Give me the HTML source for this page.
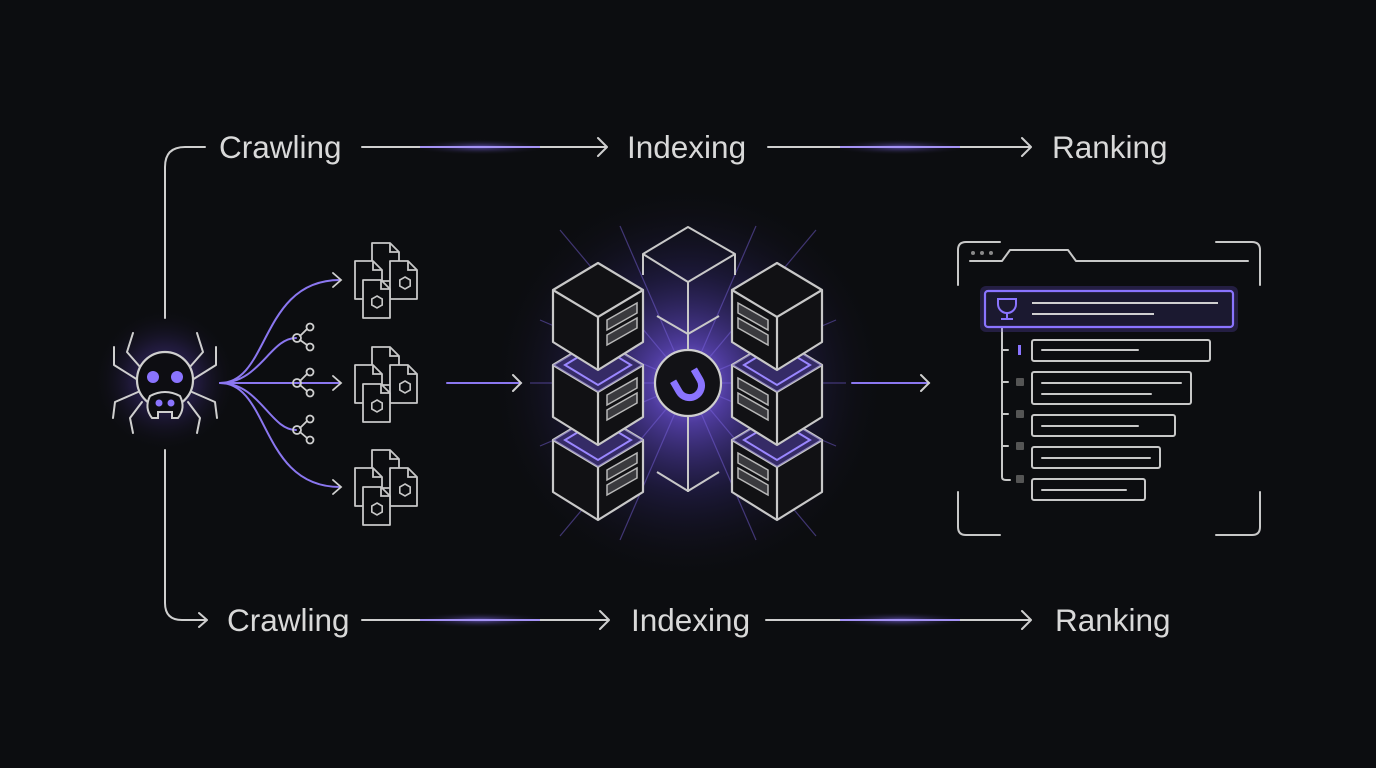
<!DOCTYPE html>
<html><head><meta charset="utf-8"><style>
html,body{margin:0;padding:0;background:#0c0d10;}
svg{display:block;}
text{font-family:"Liberation Sans",sans-serif;font-size:31.5px;fill:#d9d9d9;}
</style></head><body>
<svg width="1376" height="768" viewBox="0 0 1376 768" xmlns="http://www.w3.org/2000/svg">
<defs>
<radialGradient id="glowS" cx="50%" cy="50%" r="50%"><stop offset="0" stop-color="#6a4fd0" stop-opacity="0.6"/><stop offset="0.5" stop-color="#4b3598" stop-opacity="0.28"/><stop offset="1" stop-color="#0c0d10" stop-opacity="0"/></radialGradient>
<radialGradient id="glowC" cx="50%" cy="50%" r="50%"><stop offset="0" stop-color="#9a80ff" stop-opacity="1"/><stop offset="0.2" stop-color="#6a4fd8" stop-opacity="0.7"/><stop offset="0.55" stop-color="#352a78" stop-opacity="0.38"/><stop offset="1" stop-color="#0c0d10" stop-opacity="0"/></radialGradient>
<radialGradient id="glowL" cx="50%" cy="50%" r="50%"><stop offset="0" stop-color="#8c74ff" stop-opacity="0.6"/><stop offset="1" stop-color="#0c0d10" stop-opacity="0"/></radialGradient>
<g id="doc"><path d="M0 0 H18 L27 9 V38 H0 Z" fill="#0c0d10" stroke="#c8c8c8" stroke-width="1.8" stroke-linejoin="round"/><path d="M18 0 V9 H27" fill="none" stroke="#c8c8c8" stroke-width="1.8"/></g>
<g id="hex"><polygon points="0,-6 5.2,-3 5.2,3 0,6 -5.2,3 -5.2,-3" fill="none" stroke="#c8c8c8" stroke-width="1.6"/></g>
<g id="docs">
<use href="#doc" x="17" y="0"/>
<use href="#doc" x="0" y="18"/>
<use href="#doc" x="35" y="18"/><use href="#hex" x="50" y="40"/>
<use href="#doc" x="8" y="37"/><use href="#hex" x="22" y="59"/>
</g>
<g id="cubeS">
<polygon points="0,0 45,-27 90,0 90,52 45,80 0,52" fill="#111114" stroke="#c8c8c8" stroke-width="2.2" stroke-linejoin="round"/>
<polyline points="0,0 45,27 90,0" fill="none" stroke="#c8c8c8" stroke-width="2.2"/>
<line x1="45" y1="27" x2="45" y2="80" stroke="#c8c8c8" stroke-width="2.2"/>
</g>
<g id="glowTop"><polygon points="0,0 45,-27 90,0 45,27" fill="#5a46b8" opacity="0.5"/><polygon points="12,0 45,-20 78,0 45,20" fill="none" stroke="#9a86ff" stroke-width="2"/></g>
</defs>

<ellipse cx="165" cy="380" rx="72" ry="72" fill="url(#glowS)"/>
<ellipse cx="688" cy="383" rx="200" ry="200" fill="url(#glowC)"/>
<ellipse cx="480" cy="147" rx="70" ry="8" fill="url(#glowL)"/>
<ellipse cx="900" cy="147" rx="70" ry="8" fill="url(#glowL)"/>
<ellipse cx="480" cy="620" rx="70" ry="8" fill="url(#glowL)"/>
<ellipse cx="900" cy="620" rx="70" ry="8" fill="url(#glowL)"/>

<g fill="none" stroke="#cfcfcf" stroke-width="2" stroke-linecap="round" stroke-linejoin="round">
<path d="M165 318 V167 Q165 147 185 147 H205"/>
<path d="M165 450 V603 Q165 620 182 620 H206 M199 613 L207 620 L199 627"/>
<path d="M362 147 H607 M598 138 L607 147 L598 156"/>
<path d="M768 147 H1031 M1022 138 L1031 147 L1022 156"/>
<path d="M362 620 H609 M600 611 L609 620 L600 629"/>
<path d="M766 620 H1031 M1022 611 L1031 620 L1022 629"/>
</g>
<g stroke="#9b85ff" stroke-width="2" opacity="0.8"><line x1="420" y1="147" x2="540" y2="147"/><line x1="840" y1="147" x2="960" y2="147"/><line x1="420" y1="620" x2="540" y2="620"/><line x1="840" y1="620" x2="960" y2="620"/></g>
<text x="219" y="158">Crawling</text>
<text x="627" y="158">Indexing</text>
<text x="1052" y="158">Ranking</text>
<text x="227" y="631">Crawling</text>
<text x="631" y="631">Indexing</text>
<text x="1055" y="631">Ranking</text>

<g fill="none" stroke="#cfcfcf" stroke-width="2" stroke-linecap="round" stroke-linejoin="round">
<polyline points="141,368 127,352 133,333"/>
<polyline points="138,380 114,365 114,347"/>
<polyline points="138,392 115,402 113,418"/>
<polyline points="142,402 130,418 133,433"/>
<polyline points="189,368 203,352 197,333"/>
<polyline points="192,380 216,365 216,347"/>
<polyline points="192,392 215,402 217,418"/>
<polyline points="188,402 200,418 197,433"/>
</g>
<circle cx="165" cy="380" r="28" fill="#0d0d12" stroke="#cfcfcf" stroke-width="2.2"/>
<circle cx="153" cy="377" r="6" fill="#8a74ff"/><circle cx="177" cy="377" r="6" fill="#8a74ff"/>
<path d="M150 396 Q165 388 180 396 Q186 408 178 418 L172 418 L172 412 L158 412 L158 418 L152 418 Q144 408 150 396 Z" fill="#0d0d12" stroke="#cfcfcf" stroke-width="2"/>
<circle cx="159" cy="403" r="3.5" fill="#8a74ff"/><circle cx="171" cy="403" r="3.5" fill="#8a74ff"/>

<g fill="none" stroke="#8b77f0" stroke-width="2" stroke-linecap="round">
<path d="M220 383 C270 383 260 280 340 280"/>
<path d="M220 383 C260 383 270 338 296 338"/>
<path d="M220 383 H340"/>
<path d="M220 383 C260 383 270 430 296 430"/>
<path d="M220 383 C270 383 260 487 340 487"/>
</g>
<g fill="none" stroke="#cfcfcf" stroke-width="1.8" stroke-linecap="round">
<path d="M333 273 L341 280 L333 287 M333 376 L341 383 L333 390 M333 480 L341 487 L333 494"/>
<circle cx="297" cy="338" r="4"/><circle cx="310" cy="327" r="3.5"/><circle cx="310" cy="347" r="3.5"/><path d="M300 336 L307 329 M300 340 L307 345"/>
<circle cx="297" cy="383" r="4"/><circle cx="310" cy="372" r="3.5"/><circle cx="310" cy="393" r="3.5"/><path d="M300 381 L307 374 M300 385 L307 391"/>
<circle cx="297" cy="430" r="4"/><circle cx="310" cy="419" r="3.5"/><circle cx="310" cy="440" r="3.5"/><path d="M300 428 L307 421 M300 432 L307 438"/>
</g>
<use href="#docs" x="355" y="243"/>
<use href="#docs" x="355" y="347"/>
<use href="#docs" x="355" y="450"/>

<g stroke-width="2" fill="none" stroke-linecap="round">
<line x1="447" y1="383" x2="521" y2="383" stroke="#8b77f0"/><path d="M513 375 L521 383 L513 391" stroke="#cfcfcf"/>
<line x1="852" y1="383" x2="929" y2="383" stroke="#8b77f0"/><path d="M921 375 L929 383 L921 391" stroke="#cfcfcf"/>
</g>

<g stroke="#7e66e6" stroke-width="1.2" opacity="0.45">
<line x1="688" y1="383" x2="560" y2="230"/><line x1="688" y1="383" x2="816" y2="230"/><line x1="688" y1="383" x2="560" y2="536"/><line x1="688" y1="383" x2="816" y2="536"/>
<line x1="688" y1="383" x2="530" y2="383"/><line x1="688" y1="383" x2="846" y2="383"/><line x1="688" y1="383" x2="620" y2="540"/><line x1="688" y1="383" x2="756" y2="540"/>
<line x1="688" y1="383" x2="620" y2="226"/><line x1="688" y1="383" x2="756" y2="226"/><line x1="688" y1="383" x2="540" y2="320"/><line x1="688" y1="383" x2="836" y2="446"/><line x1="688" y1="383" x2="540" y2="446"/><line x1="688" y1="383" x2="836" y2="320"/>
</g>

<g fill="none" stroke="#c8c8c8" stroke-width="2" stroke-linejoin="round">
<polyline points="643,275 643,254 688,227 735,254 735,275"/>
<polyline points="643,254 688,282 735,254"/>
<line x1="688" y1="282" x2="688" y2="350"/><line x1="688" y1="416" x2="688" y2="492"/>
<polyline points="657,316 688,334 719,316"/>
<polyline points="657,472 688,491 719,472"/>
</g>

<g transform="translate(553,440)"><use href="#cubeS"/></g>
<g transform="translate(553,440)"><use href="#glowTop"/></g>
<g transform="translate(553,365)"><use href="#cubeS"/></g>
<g transform="translate(553,365)"><use href="#glowTop"/></g>
<g transform="translate(553,290)"><use href="#cubeS"/></g>
<g transform="translate(732,440)"><use href="#cubeS"/></g>
<g transform="translate(732,440)"><use href="#glowTop"/></g>
<g transform="translate(732,365)"><use href="#cubeS"/></g>
<g transform="translate(732,365)"><use href="#glowTop"/></g>
<g transform="translate(732,290)"><use href="#cubeS"/></g>
<g fill="#3a3a3e" stroke="#b8b8b8" stroke-width="1.5">
<polygon points="607,320 637,303 637,313 607,330"/><polygon points="607,335 637,318 637,328 607,345"/>
<polygon points="607,395 637,378 637,388 607,405"/><polygon points="607,410 637,393 637,403 607,420"/>
<polygon points="607,470 637,453 637,463 607,480"/><polygon points="607,485 637,468 637,478 607,495"/>
<polygon points="738,303 768,320 768,330 738,313"/><polygon points="738,318 768,335 768,345 738,328"/>
<polygon points="738,378 768,395 768,405 738,388"/><polygon points="738,393 768,410 768,420 738,403"/>
<polygon points="738,453 768,470 768,480 738,463"/><polygon points="738,468 768,485 768,495 738,478"/>
</g>
<circle cx="688" cy="383" r="33" fill="#121216" stroke="#cfcfcf" stroke-width="2.2"/>
<path d="M676 374 V386 A12 12 0 0 0 700 386 V374" fill="none" stroke="#8a74ff" stroke-width="7" transform="rotate(-30 688 383)"/>

<g fill="none" stroke="#c8c8c8" stroke-width="2" stroke-linecap="round" stroke-linejoin="round">
<path d="M958 285 V250 Q958 242 966 242 H1000"/>
<path d="M1216 242 H1252 Q1260 242 1260 250 V285"/>
<path d="M970 261 H1002 L1010 250 H1068 L1076 261 H1248"/>
<path d="M958 492 V527 Q958 535 966 535 H1000"/>
<path d="M1216 535 H1252 Q1260 535 1260 527 V492"/>
<path d="M1002 327 V477 Q1002 480 1006 480 H1010"/>
<path d="M1002 350 H1008 M1002 382 H1008 M1002 414 H1008 M1002 446 H1008"/>
<rect x="1032" y="340" width="178" height="21" rx="2"/><line x1="1042" y1="350" x2="1138" y2="350"/>
<rect x="1032" y="372" width="159" height="32" rx="2"/><line x1="1042" y1="383" x2="1181" y2="383"/><line x1="1042" y1="394" x2="1151" y2="394"/>
<rect x="1032" y="415" width="143" height="21" rx="2"/><line x1="1042" y1="426" x2="1138" y2="426"/>
<rect x="1032" y="447" width="128" height="21" rx="2"/><line x1="1042" y1="458" x2="1150" y2="458"/>
<rect x="1032" y="479" width="113" height="21" rx="2"/><line x1="1042" y1="490" x2="1126" y2="490"/>
</g>
<g fill="#8a8a8a"><circle cx="973" cy="253" r="2"/><circle cx="982" cy="253" r="2"/><circle cx="991" cy="253" r="2"/></g>
<g fill="#555"><rect x="1016" y="378" width="8" height="8" rx="1"/><rect x="1016" y="410" width="8" height="8" rx="1"/><rect x="1016" y="442" width="8" height="8" rx="1"/><rect x="1016" y="475" width="8" height="8" rx="1"/></g>
<rect x="1018" y="345" width="3" height="10" fill="#8a74ff"/>
<rect x="980" y="286" width="258" height="46" rx="6" fill="#6a52d8" opacity="0.25"/>
<rect x="985" y="291" width="248" height="36" rx="3" fill="#1b1930" stroke="#8a74ff" stroke-width="2.2"/>
<g stroke="#cfcfcf" stroke-width="2"><line x1="1032" y1="303" x2="1218" y2="303"/><line x1="1032" y1="314" x2="1154" y2="314"/></g>
<g fill="none" stroke="#8a74ff" stroke-width="2"><path d="M998 299 H1016 V304 A9 9 0 0 1 998 304 Z"/><path d="M1007 313 V318 M1001 319 H1013"/></g>
</svg>
</body></html>
